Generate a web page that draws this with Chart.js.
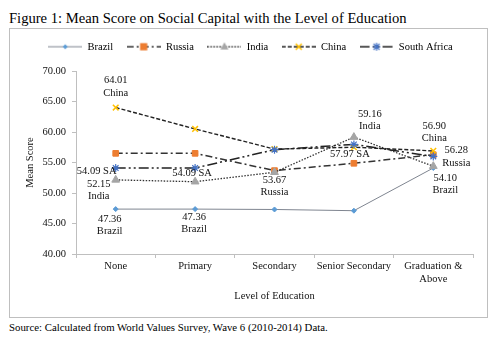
<!DOCTYPE html>
<html><head><meta charset="utf-8">
<script src="https://cdn.jsdelivr.net/npm/chart.js@4.4.0/dist/chart.umd.min.js"></script>
<style>
html,body{margin:0;padding:0;background:#fff;}
body{width:502px;height:343px;position:relative;overflow:hidden;font-family:"Liberation Serif","Times New Roman",serif;color:#000;}
#title{position:absolute;left:9px;top:10px;font-size:14.6px;line-height:17px;white-space:nowrap;}
#box{position:absolute;left:9px;top:28px;width:477px;height:288px;border:1px solid #bfbfbf;}
#box canvas{display:block;}
#source{position:absolute;left:9px;top:321px;font-size:10.8px;line-height:13px;white-space:nowrap;}
</style></head>
<body>
<div id="title">Figure 1: Mean Score on Social Capital with the Level of Education</div>
<div id="box"><canvas id="c" width="477" height="288"></canvas></div>
<div id="source">Source: Calculated from World Values Survey, Wave 6 (2010-2014) Data.</div>
<script>
const categories = ["None", "Primary", "Secondary", "Senior Secondary", ["Graduation &", "Above"]];
const seriesNames = ["Brazil", "Russia", "India", "China", "South Africa"];
const brazil = [47.36, 47.36, 47.30, 47.10, 54.10];
const russia = [56.50, 56.50, 53.67, 54.87, 56.28];
const india = [52.15, 51.85, 53.40, 59.16, 54.40];
const china = [64.01, 60.50, 57.20, 57.50, 56.90];
const southAfrica = [54.09, 54.09, 57.10, 57.97, 56.00];
const yTicks = [40, 45, 50, 55, 60, 65, 70];

// annotation texts: series index, category index, lines
const annotations = [
  {s: 3, i: 0, text: ["64.01", "China"]},
  {s: 4, i: 0, text: ["54.09 SA"]},
  {s: 2, i: 0, text: ["52.15", "India"]},
  {s: 0, i: 0, text: ["47.36", "Brazil"]},
  {s: 4, i: 1, text: ["54.09 SA"]},
  {s: 0, i: 1, text: ["47.36", "Brazil"]},
  {s: 1, i: 2, text: ["53.67", "Russia"]},
  {s: 2, i: 3, text: ["59.16", "India"]},
  {s: 4, i: 3, text: ["57.97 SA"]},
  {s: 3, i: 4, text: ["56.90", "China"]},
  {s: 1, i: 4, text: ["56.28", "Russia"]},
  {s: 0, i: 4, text: ["54.10", "Brazil"]}
];
// label offsets (styling), same order as annotations
const annotationOffsets = [
  [0, -27], [-19, 3], [-17, 4], [-6, 10], [-3, 5], [-1, 8],
  [0, 9.5], [16, -23], [-4, 10], [1, -25], [23, -4], [12, 10]
];

const FONT = '"Liberation Serif", "Times New Roman", serif';
const TXT = '#111111';

const styles = [
  {line: '#7f8590', width: 1, dash: [], point: 'rectRot', r: 2.5, fill: '#5B9BD5', stroke: '#5B9BD5', pw: 1, order: 4},
  {line: '#333333', width: 1.5, dash: [7, 3, 2, 3], point: 'rect', r: 4, fill: '#ED7D31', stroke: '#ED7D31', pw: 1, order: 3},
  {line: '#333333', width: 1.3, dash: [1.5, 1.5], point: 'triangle', r: 4.5, fill: '#A5A5A5', stroke: '#A5A5A5', pw: 1, order: 2},
  {line: '#222222', width: 1.4, dash: [4, 2], point: 'crossRot', r: 4, fill: '#FFC000', stroke: '#FFC000', pw: 1.5, order: 1},
  {line: '#222222', width: 1.5, dash: [10, 3, 2, 3, 2, 3], point: 'star', r: 4, fill: '#4472C4', stroke: '#4472C4', pw: 1.2, order: 0}
];
const seriesData = [brazil, russia, india, china, southAfrica];

function drawMarker(g, type, x, y, r, fill, stroke, lw) {
  g.save();
  g.fillStyle = fill; g.strokeStyle = stroke; g.lineWidth = lw; g.setLineDash([]);
  g.beginPath();
  if (type === 'rect') { g.rect(x - r * 0.9, y - r * 0.9, r * 1.8, r * 1.8); g.fill(); }
  else if (type === 'rectRot') { g.moveTo(x, y - r); g.lineTo(x + r, y); g.lineTo(x, y + r); g.lineTo(x - r, y); g.closePath(); g.fill(); }
  else if (type === 'triangle') { g.moveTo(x, y - r); g.lineTo(x + r * 0.9, y + r * 0.6); g.lineTo(x - r * 0.9, y + r * 0.6); g.closePath(); g.fill(); }
  else if (type === 'crossRot') { const d = r * 0.75; g.moveTo(x - d, y - d); g.lineTo(x + d, y + d); g.moveTo(x + d, y - d); g.lineTo(x - d, y + d); g.stroke(); }
  else if (type === 'star') { const d = r * 0.75; g.moveTo(x - d, y - d); g.lineTo(x + d, y + d); g.moveTo(x + d, y - d); g.lineTo(x - d, y + d); g.moveTo(x, y - r); g.lineTo(x, y + r); g.moveTo(x - r, y); g.lineTo(x + r, y); g.stroke(); }
  g.restore();
}

function legendImage(st) {
  const c = document.createElement('canvas');
  c.width = 34; c.height = 10;
  const g = c.getContext('2d');
  g.strokeStyle = st.line; g.lineWidth = st.width; g.setLineDash(st.dash);
  g.beginPath(); g.moveTo(0, 5); g.lineTo(34, 5); g.stroke();
  drawMarker(g, st.point, 17, 5, st.r, st.fill, st.stroke, st.pw);
  return c;
}

const datasets = seriesNames.map((name, k) => ({
  label: name,
  data: seriesData[k],
  borderColor: styles[k].line,
  borderWidth: styles[k].width,
  borderDash: styles[k].dash,
  pointStyle: styles[k].point,
  pointRadius: styles[k].r,
  pointHoverRadius: styles[k].r,
  pointBackgroundColor: styles[k].fill,
  pointBorderColor: styles[k].stroke,
  pointBorderWidth: styles[k].pw,
  tension: 0,
  fill: false,
  order: styles[k].order
}));

const labelPlugin = {
  id: 'pointLabels',
  afterDatasetsDraw(chart) {
    const ctx = chart.ctx, xs = chart.scales.x, ys = chart.scales.y;
    ctx.save();
    ctx.font = '10.5px ' + FONT;
    ctx.fillStyle = TXT;
    ctx.textAlign = 'center';
    ctx.textBaseline = 'middle';
    annotations.forEach((a, n) => {
      const v = chart.data.datasets[a.s].data[a.i];
      const x = xs.getPixelForValue(a.i) + annotationOffsets[n][0];
      const y = ys.getPixelForValue(v) + annotationOffsets[n][1];
      a.text.forEach((t, k) => ctx.fillText(t, x, y + k * 12.5));
    });
    ctx.restore();
  }
};

// fix legend box height so the plot area starts at the reference position, and nudge the legend
const legendHeightPlugin = {
  id: 'legendHeight',
  beforeLayout(chart) {
    const lg = chart.legend;
    if (lg && !lg._patched) {
      const fit = lg.fit;
      lg.fit = function () { fit.call(this); this.height = 42; };
      lg._patched = true;
    }
  },
  afterLayout(chart) {
    const lg = chart.legend;
    if (lg) { lg.left += 9; lg.right += 9; lg.top -= 1; lg.bottom -= 1; }
  }
};

new Chart(document.getElementById('c'), {
  type: 'line',
  data: {labels: categories, datasets: datasets},
  plugins: [labelPlugin, legendHeightPlugin],
  options: {
    responsive: false,
    animation: false,
    layout: {padding: {left: 0, right: 14, top: 0, bottom: 0}},
    plugins: {
      tooltip: {enabled: false},
      legend: {
        position: 'top',
        labels: {
          usePointStyle: true,
          pointStyleWidth: 34,
          padding: 13.5,
          color: TXT,
          font: {family: FONT, size: 10.5},
          generateLabels: (chart) => seriesNames.map((n, k) => ({
            text: n, pointStyle: legendImage(styles[k]), datasetIndex: k,
            fillStyle: styles[k].fill, strokeStyle: styles[k].stroke, lineWidth: 0, hidden: false
          }))
        }
      }
    },
    scales: {
      x: {
        type: 'category',
        offset: true,
        grid: {display: true, drawOnChartArea: false, offset: true, tickLength: 4, color: '#bfbfbf'},
        border: {color: '#bfbfbf'},
        ticks: {color: TXT, font: {family: FONT, size: 10.5}, padding: 2, maxRotation: 0, autoSkip: false},
        title: {display: true, text: 'Level of Education', color: TXT, font: {family: FONT, size: 10.5}, padding: {top: 4, bottom: 14}},
        afterFit: (s) => { s.height = 63; }
      },
      y: {
        min: 40, max: 70,
        afterBuildTicks: (s) => { s.ticks = yTicks.map(v => ({value: v})); },
        grid: {display: true, drawOnChartArea: false, tickLength: 4, color: '#bfbfbf'},
        border: {color: '#bfbfbf'},
        ticks: {color: TXT, font: {family: FONT, size: 10.5}, padding: 6, callback: (v) => Number(v).toFixed(2)},
        title: {display: true, text: 'Mean Score', color: TXT, font: {family: FONT, size: 10.5}, padding: {top: 14, bottom: 0}},
        afterFit: (s) => { s.width = 66; }
      }
    }
  }
});
</script>
</body></html>
